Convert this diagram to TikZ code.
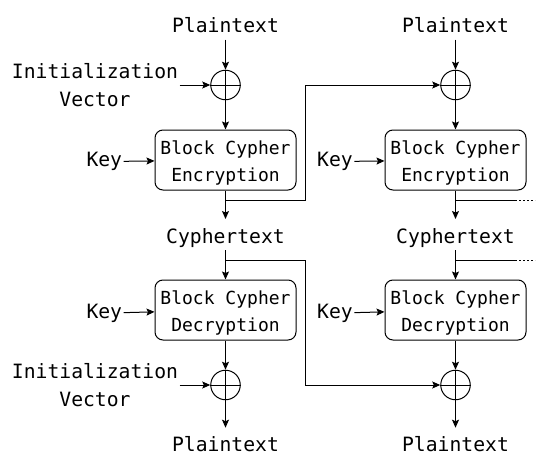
\documentclass[tikz,border=0pt]{standalone}
\usepackage{fontspec}
\newfontfamily\mono{DejaVu Sans Mono}
\usetikzlibrary{arrows.meta}
\begin{document}
\begin{tikzpicture}[x=1pt,y=-1pt,line width=1pt,
  arr/.style={-{Stealth[length=8pt,width=7pt,inset=1.5pt]}},
  lbl/.style={font=\mono\fontsize{19.7}{28.4}\selectfont,inner xsep=1pt,inner ysep=1.5pt,align=center},
  vlbl/.style={lbl,text height=22pt,text depth=5pt,anchor=base},
  cypher/.style={draw,rounded corners=8pt,minimum width=141pt,minimum height=60pt,align=center,
    font=\mono\fontsize{18}{26.3}\selectfont,text height=44pt,text depth=2pt,inner sep=0pt},
  xorn/.style={draw,circle,minimum size=29.5pt,inner sep=0pt}]
\useasboundingbox (0,0) rectangle (547,471);
\foreach \c/\dx in {1/0,2/230}{
  \node[vlbl] (pt\c) at (225.5+\dx,32.5) {Plaintext};
  \node[xorn] (xe\c) at (225.5+\dx,85) {};
  \draw (xe\c.north) -- (xe\c.south) (xe\c.west) -- (xe\c.east);
  \node[cypher] (enc\c) at (225.5+\dx,160) {Block Cypher\\Encryption};
  \node[vlbl] (ct\c) at (225.5+\dx,243) {Cyphertext};
  \node[cypher] (dec\c) at (225.5+\dx,310) {Block Cypher\\Decryption};
  \node[xorn] (xd\c) at (225.5+\dx,385) {};
  \draw (xd\c.north) -- (xd\c.south) (xd\c.west) -- (xd\c.east);
  \node[vlbl] (po\c) at (225.5+\dx,451.7) {Plaintext};
  \coordinate (be\c) at (225.5+\dx,200);
  \coordinate (bd\c) at (225.5+\dx,260);
  \draw[arr] (pt\c) -- (xe\c);
  \draw[arr] (xe\c) -- (enc\c);
  \draw[arr] (enc\c) -- (ct\c);
  \draw[arr] (ct\c) -- (dec\c);
  \draw[arr] (dec\c) -- (xd\c);
  \draw[arr] (xd\c) -- (po\c);
}
\node[lbl,anchor=base] (ke1) at (104.3,166.7) {Key};
\node[lbl,anchor=base] (kd1) at (104.3,318.3) {Key};
\node[lbl,anchor=base] (ke2) at (335,166.7) {Key};
\node[lbl,anchor=base] (kd2) at (335,318.3) {Key};
\draw[arr] (ke1) -- (enc1);
\draw[arr] (kd1) -- (dec1);
\draw[arr] (ke2) -- (enc2);
\draw[arr] (kd2) -- (dec2);
\node[lbl,anchor=base] (ive) at (95,106.7) {Initialization\\Vector};
\node[lbl,anchor=base] (ivd) at (95,406.7) {Initialization\\Vector};
\draw[arr] (ive.east |- xe1) -- (xe1);
\draw[arr] (ivd.east |- xd1) -- (xd1);
\draw[arr] (be1) -- (305,200) -- (305,85) -- (xe2);
\draw[arr] (bd1) -- (305,260) -- (305,385) -- (xd2);
\coordinate (ce) at (515,200);
\coordinate (cd) at (515,260);
\coordinate (de) at (535,200);
\coordinate (dd) at (535,260);
\draw (be2) -- (ce);
\draw (bd2) -- (cd);
\draw[dash pattern=on 2pt off 2pt] (ce) -- (de);
\draw[dash pattern=on 2pt off 2pt] (cd) -- (dd);
\end{tikzpicture}
\end{document}
